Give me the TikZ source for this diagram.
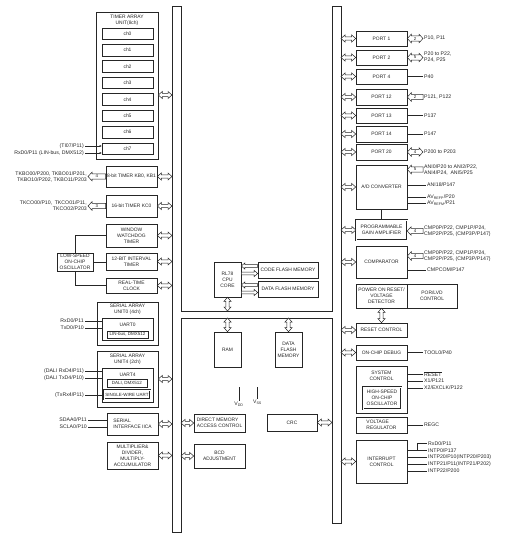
\documentclass[tikz,border=0pt]{standalone}
\usepackage{fontspec}
\setmainfont{Liberation Sans}
\usetikzlibrary{arrows.meta,calc}
\newcommand\dfs{\fontsize{5.2}{6}\selectfont}
\newcommand\bfs{\fontsize{4.9}{6}\selectfont}
\newcommand\sfs{\fontsize{4.5}{5}\selectfont}
\newcommand{\bx}[7][]{\node[box,minimum width={#5-#3},minimum height={#6-#4},#1] (#2) at ({(#3+#5)/2},{(#4+#6)/2}) {#7};}
\tikzset{
 box/.style={draw=black!85,line width=0.6pt,fill=white,inner sep=0pt,align=center,font=\bfs,text=black!85},
 lbl/.style={inner sep=1pt,font=\dfs,align=left,text=black!85},
 txt/.style={inner sep=0pt,font=\bfs,align=center,text=black!85},
 ln/.style={line width=0.6pt,draw=black!85},
 inarr/.style={ln,-{Latex[length=2pt,width=2pt]}},
 dblk/.style n args={3}{to path={
  (\tikztostart) -- ($(\tikztostart)!#3!(\tikztotarget)!#2!90:(\tikztotarget)$)
  -- ($(\tikztostart)!#3!(\tikztotarget)!#1!90:(\tikztotarget)$)
  -- ($(\tikztotarget)!#3!(\tikztostart)!#1!-90:(\tikztostart)$)
  -- ($(\tikztotarget)!#3!(\tikztostart)!#2!-90:(\tikztostart)$)
  -- (\tikztotarget)
  -- ($(\tikztotarget)!#3!(\tikztostart)!#2!90:(\tikztostart)$)
  -- ($(\tikztotarget)!#3!(\tikztostart)!#1!90:(\tikztostart)$)
  -- ($(\tikztostart)!#3!(\tikztotarget)!#1!-90:(\tikztotarget)$)
  -- ($(\tikztostart)!#3!(\tikztotarget)!#2!-90:(\tikztotarget)$)
  -- cycle}},
 sblk/.style n args={3}{to path={
  ($(\tikztostart)!#1!90:(\tikztotarget)$)
  -- ($(\tikztotarget)!#3!(\tikztostart)!#1!-90:(\tikztostart)$)
  -- ($(\tikztotarget)!#3!(\tikztostart)!#2!-90:(\tikztostart)$)
  -- (\tikztotarget)
  -- ($(\tikztotarget)!#3!(\tikztostart)!#2!90:(\tikztostart)$)
  -- ($(\tikztotarget)!#3!(\tikztostart)!#1!90:(\tikztostart)$)
  -- ($(\tikztostart)!#1!-90:(\tikztotarget)$)
  -- cycle}},
 dbl/.style={ln,line width=0.5pt,fill=white,dblk={1.6pt}{3.5pt}{4pt}},
 hol/.style={ln,line width=0.5pt,fill=white,sblk={1.3pt}{3pt}{3.5pt}},
 wide/.style={ln,line width=0.5pt,fill=white,dblk={2.7pt}{4.3pt}{4pt}},
 swide/.style={ln,line width=0.5pt,fill=white,sblk={2.7pt}{4.3pt}{4pt}},
 num/.style={font=\fontsize{4.3}{4.3}\selectfont,inner sep=0pt,text=black!90},
 dbox/.style={double=white,double distance=0.8pt,line width=0.4pt},
 small/.style={font=\sfs},
}
\begin{document}
\begin{tikzpicture}[x=1pt,y=-1pt]
\useasboundingbox (0,0) rectangle (530,535);
% buses
\draw[ln] (172,6) -- (181,6) -- (181,311) -- (332,311) -- (332,6) -- (341,6) -- (341,523) -- (332,523) -- (332,318) -- (181,318) -- (181,532) -- (172,532) -- cycle;
\coordinate (LBl) at (172,0);
\coordinate (LBr) at (181,0);
\coordinate (RBl) at (332,0);
\coordinate (RBr) at (341,0);
\coordinate (HBt) at (0,311);
\coordinate (HBb) at (0,318);
% ---------------- left column
\bx{tau}{96}{12}{158}{159}{}
\node[txt] (tauT) at (127,20) {TIMER ARRAY\\UNIT(8ch)};
\foreach \i in {0,...,7}{
  \pgfmathsetmacro\yc{28+\i*16.4+5.75}
  \node[box,minimum width=51,minimum height=11.5] (ch\i) at (127.5,\yc) {ch\i};
}
\node[lbl,anchor=east] (ti07) at (85,146) {(TI07/P11)};
\node[lbl,anchor=east] (rxlin) at (85,153) {RxD0/P11 (LIN-bus, DMX512)};
\draw[inarr] (ti07) -- (ti07 -| ch7.west);
\draw[inarr] (rxlin) -- (rxlin -| ch7.west);
\coordinate (tauA) at (tau.east |- 0,95);
\coordinate (tauB) at (LBl |- 0,95);
\draw[dbl] (tauA) to (tauB);

\bx{tkb}{106}{166}{157}{187}{8-bit TIMER KB0, KB1}
\node[lbl,anchor=east,align=right] (tkbl) at (88,176.5) {TKBO00/P200, TKBO01/P201,\\TKBO10/P202, TKBO11/P203};
\draw[swide] (tkb.west) to (tkbl.east);
\path (tkb.west) -- node[num]{4} (tkbl.east);
\draw[dbl] (tkb.east) to (tkb.east -| LBl);

\bx{tkc}{106}{195}{157}{217}{16-bit TIMER KC0}
\node[lbl,anchor=east,align=right] (tkcl) at (88,206) {TKCO00/P10,\enspace TKCO01/P11,\\TKCO02/P203};
\draw[swide] (tkc.west) to (tkcl.east);
\path (tkc.west) -- node[num]{3} (tkcl.east);
\draw[dbl] (tkc.east) to (tkc.east -| LBl);

\bx{wdt}{106}{224}{157}{247}{WINDOW\\WATCHDOG\\TIMER}
\bx{itv}{106}{253}{157}{270}{12-BIT INTERVAL\\TIMER}
\bx{rtc}{106}{278}{157}{293}{REAL-TIME\\CLOCK}
\bx{loco}{57}{253}{93}{271}{LOW-SPEED\\ON-CHIP\\OSCILLATOR}
\draw[ln] (loco.north) |- (wdt.west);
\draw[ln] (loco.south) |- (rtc.west);
\draw[ln] (loco.east) -- (loco.east -| itv.west);
\draw[dbl] (wdt.east) to (wdt.east -| LBl);
\draw[dbl] (itv.east) to (itv.east -| LBl);
\draw[dbl] (rtc.east) to (rtc.east -| LBl);

\bx{sau0}{97}{302}{158}{345}{}
\node[txt] (sau0T) at (127.5,309) {SERIAL ARRAY\\UNIT0 (4ch)};
\bx{uart0}{102}{318}{153}{340}{}
\node[txt] (uart0T) at (127.5,324.5) {UART0};
\bx[small]{lin}{107}{331}{148}{338}{LIN-bus, DMX512}
\node[lbl,anchor=east] (rxd0) at (85,321) {RxD0/P11};
\node[lbl,anchor=east] (txd0) at (85,328) {TxD0/P10};
\draw[ln] (rxd0) -- (rxd0 -| uart0.west);
\draw[ln] (txd0) -- (txd0 -| uart0.west);

\bx{sau4}{97}{351}{158}{407}{}
\node[txt] (sau4T) at (127.5,359) {SERIAL ARRAY\\UNIT4 (2ch)};
\bx{uart4}{102}{368}{153}{402}{}
\node[txt] (uart4T) at (127.5,374.5) {UART4};
\bx[small]{dali}{107}{379}{147}{387}{DALI, DMX512}
\bx[dbox,small]{swu}{104}{390}{150}{399}{SINGLE-WIRE UART}
\node[lbl,anchor=east] (drx) at (85,371) {(DALI RxD4/P11)};
\node[lbl,anchor=east] (dtx) at (85,378) {(DALI TxD4/P10)};
\node[lbl,anchor=east] (trx) at (85,395) {(TxRx4/P11)};
\draw[ln] (drx) -- (drx -| uart4.west);
\draw[ln] (dtx) -- (dtx -| uart4.west);
\draw[ln] (trx) -- (trx -| swu.west);
\coordinate (sau4A) at (sau4.east |- 0,379);
\coordinate (sau4B) at (LBl |- 0,379);
\draw[dbl] (sau4A) to (sau4B);

\bx[align=left]{iica}{107}{413}{158}{435}{SERIAL\\INTERFACE IICA}
\node[lbl,anchor=east] (sda) at (88,420) {SDAA0/P11};
\node[lbl,anchor=east] (scl) at (88,427) {SCLA0/P10};
\draw[ln] (sda) -- (sda -| iica.west);
\draw[ln] (scl) -- (scl -| iica.west);
\draw[dbl] (iica.east) to (iica.east -| LBl);

\bx{mul}{107}{442}{158}{469}{MULTIPLIER\&\\DIVIDER,\\MULTIPLY-\\ACCUMULATOR}
\draw[dbl] (mul.east) to (mul.east -| LBl);

% ---------------- centre
\bx{cpu}{214}{262}{241}{297}{RL78\\CPU\\CORE}
\bx{cfl}{258}{262}{318}{278}{CODE FLASH MEMORY}
\bx{dfl}{258}{281}{318}{297}{DATA FLASH MEMORY}
\coordinate (c1a) at (cpu.east |- 0,266);  \coordinate (c1b) at (cfl.west |- 0,266);
\coordinate (c2a) at (cpu.east |- 0,273.5);\coordinate (c2b) at (cfl.west |- 0,273.5);
\coordinate (d1a) at (cpu.east |- 0,285);  \coordinate (d1b) at (dfl.west |- 0,285);
\coordinate (d2a) at (cpu.east |- 0,292.5);\coordinate (d2b) at (dfl.west |- 0,292.5);
\draw[hol] (c1b) to (c1a);
\draw[hol] (c2a) to (c2b);
\draw[hol] (d1b) to (d1a);
\draw[hol] (d2a) to (d2b);
\draw[dbl] (cpu.south) to (cpu.south |- HBt);
\bx{ram}{214}{332}{241}{367}{RAM}
\bx{dfm}{275}{332}{302}{367}{DATA\\FLASH\\MEMORY}
\draw[dbl] (ram.north |- HBb) to (ram.north);
\draw[dbl] (dfm.north |- HBb) to (dfm.north);

\coordinate (vddt) at (239,387);
\coordinate (vsst) at (257,387);
\node[lbl,anchor=north] (vdd) at (239,400.5) {V\textsubscript{DD}};
\node[lbl,anchor=north] (vss) at (257.5,399) {V\textsubscript{SS}};
\draw[ln] (vddt) -- (vdd.north);
\draw[ln] (vsst) -- (vsst |- vss.north);

\bx[align=left]{dma}{194}{414}{245}{432}{DIRECT MEMORY\\ACCESS CONTROL}
\bx{bcd}{194}{444}{245}{468}{BCD\\ADJUSTMENT}
\bx{crc}{267}{414}{317}{431}{CRC}
\draw[dbl] (dma.west -| LBr) to (dma.west);
\draw[dbl] (bcd.west -| LBr) to (bcd.west);
\draw[dbl] (crc.east) to (crc.east -| RBl);

% ---------------- right column
\bx{p1}{356}{31}{407}{46}{PORT 1}
\bx{p2}{356}{50}{407}{65}{PORT 2}
\bx{p4}{356}{69}{407}{84}{PORT 4}
\bx{p12}{356}{89}{407}{105}{PORT 12}
\bx{p13}{356}{108}{407}{123}{PORT 13}
\bx{p14}{356}{126}{407}{142}{PORT 14}
\bx{p20}{356}{144}{407}{160}{PORT 20}
\foreach \p in {p1,p2,p4,p12,p13,p14,p20}{\draw[dbl] (\p.west -| RBr) to (\p.west);}
\node[lbl,anchor=west] (p1l) at (423,38.5) {P10, P11};
\draw[wide] (p1.east) to (p1l.west);
\path (p1.east) -- node[num]{2} (p1l.west);
\node[lbl,anchor=west] (p2l) at (423,57.5) {P20 to P22,\\P24, P25};
\draw[wide] (p2.east) to (p2l.west);
\path (p2.east) -- node[num]{5} (p2l.west);
\node[lbl,anchor=west] (p4l) at (423,76.5) {P40};
\draw[ln] (p4.east) -- (p4l.west);
\node[lbl,anchor=west] (p12l) at (423,97) {P121, P122};
\draw[swide] (p12l.west) to (p12.east);
\path (p12l.west) -- node[num]{2} (p12.east);
\node[lbl,anchor=west] (p13l) at (423,115.5) {P137};
\draw[ln] (p13.east) -- (p13l.west);
\node[lbl,anchor=west] (p14l) at (423,134) {P147};
\draw[ln] (p14.east) -- (p14l.west);
\node[lbl,anchor=west] (p20l) at (423,152) {P200 to P203};
\draw[wide] (p20.east) to (p20l.west);
\path (p20.east) -- node[num]{4} (p20l.west);

\bx{adc}{356}{165}{407}{209}{A/D CONVERTER}
\draw[dbl] (adc.west -| RBr) to (adc.west);
\node[lbl,anchor=west] (anil) at (423,169.5) {ANI0/P20 to ANI2/P22,\\ANI4/P24,\enspace ANI5/P25};
\draw[swide] (anil.west) to (adc.east |- anil.west);
\path (anil.west) -- node[num]{5} (adc.east |- anil.west);
\node[lbl,anchor=west] (ani18) at (426,185) {ANI18/P147};
\draw[ln] (adc.east |- ani18.west) -- (ani18.west);
\node[lbl,anchor=west] (avp) at (426,197) {AV\textsubscript{REFP}/P20};
\draw[ln] (adc.east |- avp.west) -- (avp.west);
\node[lbl,anchor=west] (avm) at (426,203) {AV\textsubscript{REFM}/P21};
\draw[ln] (adc.east |- avm.west) -- (avm.west);

\bx[dbox]{pga}{356}{220}{407}{240}{PROGRAMMABLE\\GAIN AMPLIFIER}
\draw[ln] (adc.south) -- (pga.north);
\draw[dbl] (pga.west -| RBr) to (pga.west);
\node[lbl,anchor=west] (pgal) at (423,231) {CMP0P/P22, CMP1P/P24,\\CMP2P/P25, (CMP3P/P147)};
\draw[swide] (pgal.west) to (pga.east |- pgal.west);
\path (pgal.west) -- node[num]{4} (pga.east |- pgal.west);

\bx{cmp}{356}{246}{407}{278}{COMPARATOR}
\draw[dbl] (cmp.west -| RBr) to (cmp.west);
\node[lbl,anchor=west] (cmpl) at (423,256) {CMP0P/P22, CMP1P/P24,\\CMP2P/P25, (CMP3P/P147)};
\draw[swide] (cmpl.west) to (cmp.east |- cmpl.west);
\path (cmpl.west) -- node[num]{4} (cmp.east |- cmpl.west);
\node[lbl,anchor=west] (cmpc) at (426,270) {CMPCOM/P147};
\draw[ln] (cmp.east |- cmpc.west) -- (cmpc.west);

\bx{por}{356}{284}{407}{308}{POWER ON RESET/\\VOLTAGE\\DETECTOR}
\bx{porc}{407}{284}{457}{308}{POR/LVD\\CONTROL}
\bx{rst}{356}{323}{407}{337}{RESET CONTROL}
\draw[dbl] (por.south) to (rst.north);
\draw[dbl] (rst.west -| RBr) to (rst.west);

\bx{ocd}{356}{345}{407}{360}{ON-CHIP DEBUG}
\draw[dbl] (ocd.west -| RBr) to (ocd.west);
\node[lbl,anchor=west] (tool) at (423,352.5) {TOOL0/P40};
\draw[ln] (ocd.east) -- (tool.west);

\bx{sys}{356}{366}{407}{413}{}
\node[txt] (sysT) at (381.5,376) {SYSTEM\\CONTROL};
\bx[dbox]{hoco}{363}{387}{401}{409}{HIGH-SPEED\\ON-CHIP\\OSCILLATOR}
\node[lbl,anchor=west] (rstl) at (423,374) {$\overline{\mbox{RESET}}$};
\node[lbl,anchor=west] (x1l) at (423,381) {X1/P121};
\node[lbl,anchor=west] (x2l) at (423,388) {X2/EXCLK/P122};
\draw[ln] (sys.east |- rstl.west) -- (rstl.west);
\draw[ln] (sys.east |- x1l.west) -- (x1l.west);
\draw[ln] (sys.east |- x2l.west) -- (x2l.west);

\bx[align=left]{vreg}{356}{417}{407}{433}{VOLTAGE\\REGULATOR}
\node[lbl,anchor=west] (regc) at (423,425) {REGC};
\draw[ln] (vreg.east) -- (regc.west);

\bx{intc}{356}{440}{407}{483}{INTERRUPT\\CONTROL}
\draw[dbl] (intc.west -| RBr) to (intc.west);
\node[lbl,anchor=west] (irx) at (427,443.5) {RxD0/P11};
\node[lbl,anchor=west] (i0) at (427,450.5) {INTP0/P137};
\node[lbl,anchor=west] (i20) at (427,457.5) {INTP20/P10(INTP20/P203)};
\node[lbl,anchor=west] (i21) at (427,464) {INTP21/P11(INTP21/P202)};
\node[lbl,anchor=west] (i22) at (427,471) {INTP22/P200};
\draw[ln] (irx.west) -| (417,450.5);
\draw[ln] (intc.east |- i0.west) -- (i0.west);
\draw[ln] (intc.east |- i20.west) -- (i20.west);
\draw[ln] (intc.east |- i21.west) -- (i21.west);
\draw[ln] (intc.east |- i22.west) -- (i22.west);
\end{tikzpicture}
\end{document}
